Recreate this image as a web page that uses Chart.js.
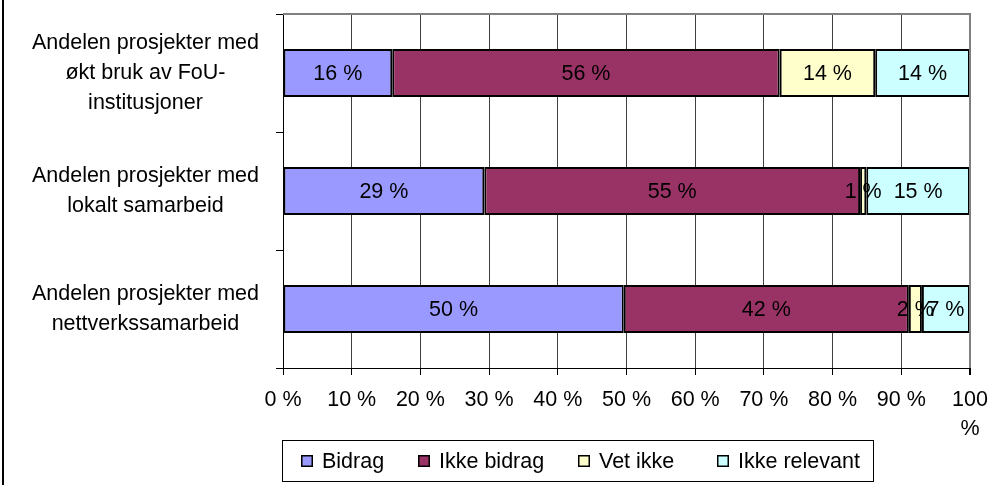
<!DOCTYPE html>
<html lang="no">
<head>
<meta charset="UTF-8">
<title>Andelen prosjekter</title>
<script src="https://cdn.jsdelivr.net/npm/chart.js"></script>
<style>
    body { margin: 0; background: #fff; }
    #wrap { width: 991px; height: 485px; position: relative; }
</style>
</head>
<body>
<div id="wrap"><canvas id="chart"></canvas></div>
<script>
    // categories (multi-line labels as in the original)
    const categories = [
        ['Andelen prosjekter med', 'økt bruk av FoU-', 'institusjoner'],
        ['Andelen prosjekter med', 'lokalt samarbeid'],
        ['Andelen prosjekter med', 'nettverkssamarbeid']
    ];
    const seriesNames = ['Bidrag', 'Ikke bidrag', 'Vet ikke', 'Ikke relevant'];

    // shares in percent
    const bidrag       = [15.9, 29.3, 49.6];
    const ikkeBidrag   = [56.4, 54.7, 41.5];
    const vetIkke      = [13.9, 0.9, 1.9];
    const ikkeRelevant = [13.8, 15.1, 7.0];

    const xTickLabels = ['0 %', '10 %', '20 %', '30 %', '40 %', '50 %', '60 %', '70 %', '80 %', '90 %', ['100', '%']];

    const colors = ['#9999FF', '#993366', '#FFFFCC', '#CCFFFF'];
    const FONT = 'Arial, "Liberation Sans", sans-serif';
    const FSIZE = 21.5;

    const seriesValues = [bidrag, ikkeBidrag, vetIkke, ikkeRelevant];

    // value labels centred in each segment
    const valueLabels = {
        id: 'valueLabels',
        afterDatasetsDraw(chart) {
            const ctx = chart.ctx;
            ctx.save();
            ctx.font = FSIZE + 'px ' + FONT;
            ctx.fillStyle = '#000';
            ctx.textAlign = 'center';
            ctx.textBaseline = 'middle';
            chart.data.datasets.forEach((ds, i) => {
                chart.getDatasetMeta(i).data.forEach((bar, j) => {
                    const c = bar.getCenterPoint();
                    ctx.fillText(Math.round(ds.data[j]) + ' %', c.x, c.y + 1);
                });
            });
            ctx.restore();
        }
    };

    // frame: left border of the picture, grey top/right plot edges, boxed legend
    const legendX = [301, 418, 578, 717];
    const frame = {
        id: 'frame',
        afterDraw(chart) {
            const ctx = chart.ctx;
            const a = chart.chartArea;
            ctx.save();
            ctx.fillStyle = '#000';
            ctx.fillRect(2, 0, 2, chart.height);

            ctx.strokeStyle = '#808080';
            ctx.lineWidth = 2;
            ctx.beginPath();
            ctx.moveTo(a.left, a.top);
            ctx.lineTo(a.right, a.top);
            ctx.lineTo(a.right, a.bottom);
            ctx.stroke();

            // legend
            const box = { x: 282.5, y: 440.5, w: 591, h: 41 };
            ctx.lineWidth = 1;
            ctx.strokeStyle = '#000';
            ctx.strokeRect(box.x, box.y, box.w, box.h);
            ctx.font = FSIZE + 'px ' + FONT;
            ctx.textBaseline = 'middle';
            ctx.textAlign = 'left';
            const cy = box.y + box.h / 2;
            seriesNames.forEach((name, i) => {
                const x = legendX[i];
                ctx.fillStyle = colors[i];
                ctx.fillRect(x, cy - 6, 12, 12);
                ctx.lineWidth = 1.5;
                ctx.strokeRect(x + 0.75, cy - 5.25, 10.5, 10.5);
                ctx.fillStyle = '#000';
                ctx.fillText(name, x + 21, cy + 1);
            });
            ctx.restore();
        }
    };

    const noPad = s => { s.paddingTop = 0; s.paddingBottom = 0; s.paddingLeft = 0; s.paddingRight = 0; };

    new Chart(document.getElementById('chart'), {
        type: 'bar',
        data: {
            labels: categories,
            datasets: seriesNames.map((name, i) => ({
                label: name,
                data: seriesValues[i],
                backgroundColor: colors[i],
                borderColor: '#000',
                borderWidth: 2,
                borderSkipped: false,
                categoryPercentage: 1,
                barPercentage: 0.407
            }))
        },
        options: {
            indexAxis: 'y',
            responsive: true,
            maintainAspectRatio: false,
            animation: false,
            layout: { padding: { top: 14, right: 21, left: 0, bottom: 0 } },
            plugins: {
                legend: { display: false },
                tooltip: { enabled: false }
            },
            scales: {
                x: {
                    stacked: true,
                    min: 0,
                    max: 100,
                    ticks: {
                        stepSize: 10,
                        color: '#000',
                        font: { family: FONT, size: FSIZE, lineHeight: 1.38 },
                        padding: 10,
                        maxRotation: 0,
                        autoSkip: false,
                        callback: (v, i) => xTickLabels[i]
                    },
                    grid: {
                        color: c => (c.tick && c.tick.value === 100) ? '#808080' : '#404040',
                        lineWidth: c => (c.tick && c.tick.value === 100) ? 2 : 1,
                        tickColor: '#000',
                        tickLength: 7
                    },
                    border: { color: '#000', width: 1 },
                    afterFit: s => { s.height = 117; noPad(s); }
                },
                y: {
                    stacked: true,
                    ticks: {
                        color: '#000',
                        font: { family: FONT, size: FSIZE, lineHeight: 1.38 },
                        crossAlign: 'center',
                        padding: 17
                    },
                    grid: {
                        drawOnChartArea: false,
                        color: '#000',
                        tickLength: 7
                    },
                    border: { color: '#000', width: 1 },
                    afterFit: s => { s.width = 283; noPad(s); }
                }
            }
        },
        plugins: [valueLabels, frame]
    });
</script>
</body>
</html>
